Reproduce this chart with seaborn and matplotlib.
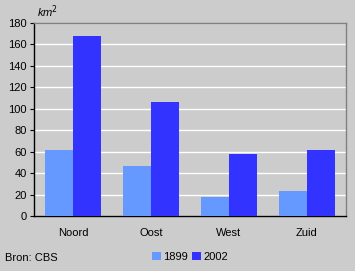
import matplotlib
matplotlib.use("Agg")
import matplotlib.pyplot as plt
import seaborn as sns
import pandas as pd
from matplotlib.patches import Patch

regions = ["Noord", "Oost", "West", "Zuid"]
years = ["1899", "2002"]
values_1899 = [62, 47, 18, 23]
values_2002 = [168, 106, 58, 62]
yticks = [0, 20, 40, 60, 80, 100, 120, 140, 160, 180]
colors = ["#6699FF", "#3333FF"]

df = pd.DataFrame({
    "regio": regions * 2,
    "jaar": [years[0]] * 4 + [years[1]] * 4,
    "km2": values_1899 + values_2002,
})

sns.set_theme(style="white")
plt.rcParams["font.family"] = ["Liberation Sans", "DejaVu Sans"]
plt.rcParams["text.color"] = "black"
plt.rcParams["xtick.color"] = "black"
plt.rcParams["ytick.color"] = "black"

fig = plt.figure(figsize=(3.55, 2.71), dpi=100, facecolor="#CCCCCC")
ax = fig.add_axes([34/355, 1 - 216/271, (346-34)/355, (216-23)/271])
ax.set_facecolor("#CCCCCC")

sns.barplot(data=df, x="regio", y="km2", hue="jaar", palette=colors,
            width=0.72, saturation=1, ax=ax, legend=False, zorder=3,
            linewidth=0, edgecolor="none")

ax.set_ylim(0, 180)
ax.set_yticks(yticks)
ax.set_yticklabels([str(t) for t in yticks], fontsize=8, color="black")
ax.set_xlim(-0.5, 3.5)
ax.tick_params(axis="x", length=0, pad=9, labelsize=8, labelcolor="black")
ax.tick_params(axis="y", length=3, width=0.8, color="black", pad=2, left=True)
ax.set_xlabel("")
ax.set_ylabel("")
ax.yaxis.grid(True, color="white", linewidth=1, zorder=0)
ax.set_axisbelow(True)
for s in ["left", "bottom"]:
    ax.spines[s].set_color("black")
    ax.spines[s].set_linewidth(1)
for s in ["top", "right"]:
    ax.spines[s].set_color("#808080")
    ax.spines[s].set_linewidth(1)

fig.text(37/355, 1 - 12/271, "km$^2$", fontsize=8, style="italic", va="center", ha="left", color="black")
fig.text(5/355, 1 - 258/271, "Bron: CBS", fontsize=8, va="center", ha="left", color="black")

handles = [Patch(facecolor=c, edgecolor="none") for c in colors]
fig.legend(handles, years, loc="center", bbox_to_anchor=(190/355, 1 - 257/271),
           ncol=2, frameon=False, fontsize=8, handlelength=0.8, handleheight=0.8,
           handletextpad=0.2, columnspacing=0.4, labelcolor="black")

fig.savefig("out.png", dpi=100, facecolor=fig.get_facecolor())
